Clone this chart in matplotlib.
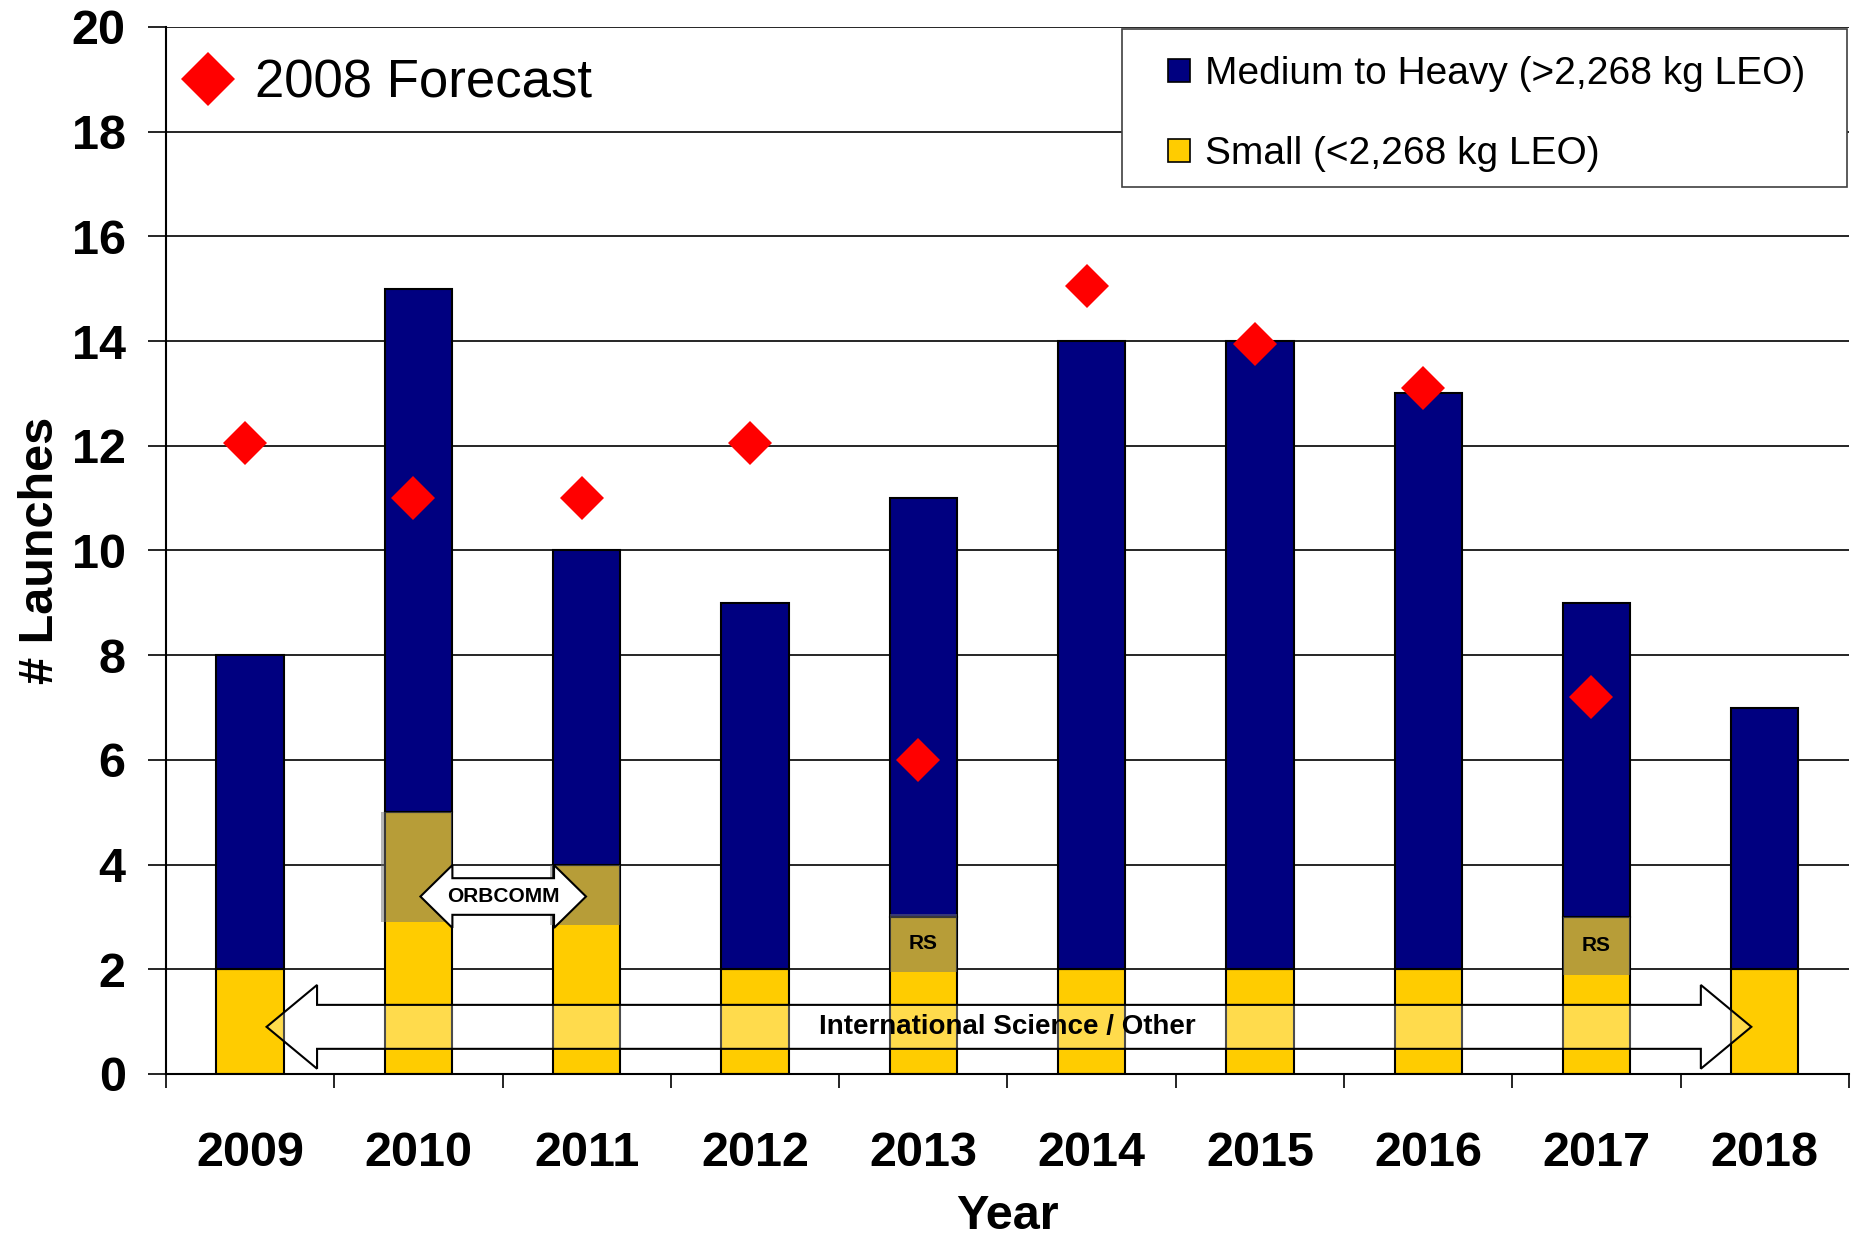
import matplotlib
matplotlib.use("Agg")
import matplotlib.pyplot as plt
import numpy as np
from matplotlib.patches import Patch, Polygon, Rectangle
from matplotlib.lines import Line2D

plt.rcParams['font.family'] = ['Liberation Sans', 'DejaVu Sans']

# donnees
annees = ['2009', '2010', '2011', '2012', '2013', '2014', '2015', '2016', '2017', '2018']
petits = [2, 5, 4, 2, 3, 2, 2, 2, 3, 2]
moyens_lourds = [6, 10, 6, 7, 8, 12, 12, 11, 6, 5]
prevision_2008 = [12.05, 11.0, 11.0, 12.05, 6.0, 15.05, 13.95, 13.1, 7.2, np.nan]

# zones grisees (ORBCOMM, RS)
orbcomm_idx = [1, 2]
orbcomm_bas = [2.9, 2.85]
orbcomm_haut = [5.0, 4.0]
rs_idx = [4, 8]
rs_bas = [1.95, 1.9]
rs_haut = [3.05, 3.0]

BLEU = '#000080'
JAUNE = '#FFCC00'

def fleche_double(x0, x1, yc, tete, demi_tete, demi_tige):
    # polygone d'une fleche a deux pointes
    return [(x0, yc), (x0 + tete, yc + demi_tete), (x0 + tete, yc + demi_tige),
            (x1 - tete, yc + demi_tige), (x1 - tete, yc + demi_tete), (x1, yc),
            (x1 - tete, yc - demi_tete), (x1 - tete, yc - demi_tige),
            (x0 + tete, yc - demi_tige), (x0 + tete, yc - demi_tete)]

fig = plt.figure(figsize=(18.56, 12.38), dpi=100)
ax = fig.add_axes([0.0894, 0.1325, 0.9068, 0.8457])

x = np.arange(len(annees))
larg = 0.40
ax.bar(x, petits, larg, color=JAUNE, edgecolor='black', linewidth=1.5, zorder=2)
ax.bar(x, moyens_lourds, larg, bottom=petits, color=BLEU, edgecolor='black', linewidth=1.5, zorder=2)

# zones grisees
for i, b, h in zip(orbcomm_idx, orbcomm_bas, orbcomm_haut):
    ax.add_patch(Rectangle((x[i] - larg / 2 - 0.02, b), larg + 0.02, h - b,
                           facecolor='#707070', alpha=0.5, edgecolor='none', zorder=3))
for i, b, h in zip(rs_idx, rs_bas, rs_haut):
    ax.add_patch(Rectangle((x[i] - larg / 2, b), larg, h - b,
                           facecolor='#707070', alpha=0.5, edgecolor='none', zorder=3))
    ax.text(x[i], (b + h) / 2, 'RS', ha='center', va='center', fontsize=15,
            fontweight='bold', zorder=6)

# fleche ORBCOMM
pts = fleche_double(x[orbcomm_idx[0]] + 0.012, x[orbcomm_idx[1]] - 0.004, 3.39, 0.19, 0.6, 0.35)
ax.add_patch(Polygon(pts, closed=True, facecolor='white', edgecolor='black', linewidth=1.5, zorder=5))
ax.text((x[1] + x[2]) / 2 + 0.005, 3.39, 'ORBCOMM', ha='center', va='center', fontsize=15,
        fontweight='bold', zorder=6)

# fleche International Science / Other
pts = fleche_double(x[0] + 0.098, x[9] - 0.08, 0.9, 0.30, 0.8, 0.42)
ax.add_patch(Polygon(pts, closed=True, facecolor=(1, 1, 1, 0.3), edgecolor='black',
                     linewidth=1.5, zorder=5))
ax.text(4.5, 0.9, 'International Science / Other', ha='center', va='center', fontsize=20,
        fontweight='bold', zorder=6)

# prevision 2008
ax.plot(x - 0.03, prevision_2008, linestyle='none', marker='D', markersize=22,
        color='red', markeredgewidth=0, zorder=7)

ax.set_xlim(-0.5, 9.5)
ax.set_ylim(0, 20)
ax.set_yticks(np.arange(0, 21, 2))
ax.yaxis.grid(True, color='black', linewidth=1.2, zorder=0)
ax.set_axisbelow(True)
for s in ['top', 'right']:
    ax.spines[s].set_visible(False)
ax.spines['left'].set_linewidth(1.5)
ax.spines['bottom'].set_linewidth(1.5)

ax.set_xticks(x)
ax.set_xticklabels(annees, fontsize=35, fontweight='bold')
ax.set_xticks(np.arange(-0.5, 10, 1), minor=True)
ax.tick_params(axis='x', which='major', length=0, pad=41)
ax.tick_params(axis='x', which='minor', length=10, width=1.2, direction='out')
ax.tick_params(axis='y', length=13, width=1.2, direction='out', pad=16,
               labelsize=35)
for t in ax.get_yticklabels():
    t.set_fontweight('bold')

ax.set_xlabel('Year', fontsize=35, fontweight='bold', labelpad=13)
ax.set_ylabel('# Launches', fontsize=35, fontweight='bold', labelpad=6)

# cadre de la legende
ax.add_patch(Rectangle((0.568, 0.847), 0.4306, 0.1507, transform=ax.transAxes,
                       facecolor='white', edgecolor='#404040', linewidth=1.2,
                       zorder=9, clip_on=False))

# legendes
poignees = [Patch(facecolor=BLEU, edgecolor='black', linewidth=1.2),
            Patch(facecolor=JAUNE, edgecolor='black', linewidth=1.2)]
leg = ax.legend(poignees, ['Medium to Heavy (>2,268 kg LEO)', 'Small (<2,268 kg LEO)'],
                loc='upper left', bbox_to_anchor=(0.5956, 0.972), fontsize=28,
                frameon=False, handlelength=0.55, handleheight=0.55, handletextpad=0.4,
                labelspacing=1.13, borderpad=0, borderaxespad=0)
leg.set_zorder(10)
ax.add_artist(leg)

prev = Line2D([], [], linestyle='none', marker='D', markersize=27, color='red',
              markeredgewidth=0)
leg2 = ax.legend([prev], ['2008 Forecast'], loc='upper left', bbox_to_anchor=(0.0091, 0.970),
                 fontsize=38, frameon=False, handlelength=1.0, handletextpad=0.4,
                 borderpad=0, borderaxespad=0)

fig.savefig('out.png', dpi=100)
